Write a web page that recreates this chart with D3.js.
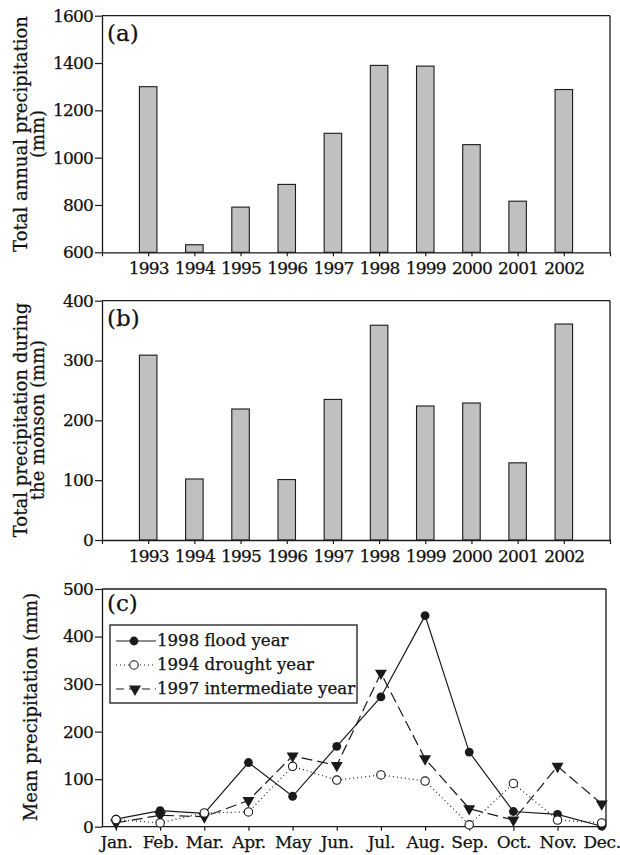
<!DOCTYPE html>
<html><head><meta charset="utf-8">
<script src="https://cdn.jsdelivr.net/npm/d3@7"></script>
<style>
html,body{margin:0;padding:0;background:#fff;}
svg text{font-family:"DejaVu Serif",serif;fill:#111;stroke:#111;stroke-width:0.25px;}
</style></head>
<body>
<svg id="chart" width="620" height="855"></svg>
<script>
// ---------- data ----------
const years = [1993,1994,1995,1996,1997,1998,1999,2000,2001,2002];
const annualPrecip = [1300,632,791,887,1103,1390,1387,1055,816,1288];
const monsoonPrecip = [309,102,219,101,235,359,224,229,129,361];
const months = ["Jan.","Feb.","Mar.","Apr.","May","Jun.","Jul.","Aug.","Sep.","Oct.","Nov.","Dec."];
const flood1998 = [16,34,28,135,64,169,273,444,157,32,26,1];
const drought1994 = [15,8,29,31,127,98,109,96,4,91,14,8];
const inter1997 = [8,24,21,55,149,129,323,143,38,14,127,48];
const ticksA = [600,800,1000,1200,1400,1600];
const ticksB = [0,100,200,300,400];
const ticksC = [0,100,200,300,400,500];
const seriesNames = ["1998 flood year","1994 drought year","1997 intermediate year"];

const svg = d3.select("#chart");
const INK = "#1a1a1a";

function frame(g, x0, x1, y0, y1){
  g.append("line").attr("x1",x0).attr("x2",x1).attr("y1",y0).attr("y2",y0)
    .attr("stroke",INK).attr("stroke-width",1.3);
  g.append("line").attr("x1",x1).attr("x2",x1).attr("y1",y0).attr("y2",y1)
    .attr("stroke",INK).attr("stroke-width",1.3);
}
function styleAxis(sel, fs, ls){
  sel.selectAll("path.domain").attr("stroke",INK).attr("stroke-width",1.3);
  sel.selectAll(".tick line").attr("stroke",INK).attr("stroke-width",1.2);
  sel.selectAll(".tick text").attr("font-family","DejaVu Serif").attr("font-size",fs).attr("fill","#111")
    .attr("letter-spacing", ls||0);
}
function yTitle(lines, cy, baselines, fs){
  lines.forEach((t,i)=>{
    svg.append("text").attr("transform",`translate(${baselines[i]},${cy}) rotate(-90)`)
      .attr("text-anchor","middle").attr("font-size",fs).text(t);
  });
}

// ---------- bar panels ----------
function barPanel(values, yDomain, yTicks, top, bottom, label, labelBase){
  const x = d3.scaleLinear().domain([1992,2003]).range([102,610]);
  const y = d3.scaleLinear().domain(yDomain).range([bottom, top]);
  const g = svg.append("g");
  const bw = 17.5;
  g.selectAll("rect.bar").data(years.map((yr,i)=>({yr, v:values[i]}))).enter()
    .append("rect").attr("class","bar")
    .attr("x",d=>x(d.yr)-bw/2).attr("width",bw)
    .attr("y",d=>y(d.v)).attr("height",d=>y(yDomain[0])-y(d.v))
    .attr("fill","#c0c0c0").attr("stroke",INK).attr("stroke-width",1.1);
  frame(g, 102, 610, top, bottom);
  const xa = g.append("g").attr("transform",`translate(0,${bottom})`)
    .call(d3.axisBottom(x).tickValues(d3.range(1992,2004)).tickSize(4).tickPadding(6).tickSizeOuter(0)
      .tickFormat(d=> (d>=1993 && d<=2002) ? String(d) : ""));
  styleAxis(xa, 17, -0.8);
  const ya = g.append("g").attr("transform","translate(102,0)")
    .call(d3.axisLeft(y).tickValues(yTicks).tickSize(7).tickPadding(2).tickSizeOuter(0).tickFormat(d3.format("d")));
  styleAxis(ya, 17, -0.8);
  svg.append("text").attr("x",107).attr("y",labelBase).attr("font-size",23).text(label);
  return {x,y};
}

barPanel(annualPrecip, [600,1600], ticksA, 15.7, 252.3, "(a)", 41);
barPanel(monsoonPrecip, [0,400], ticksB, 300.7, 540, "(b)", 326);

yTitle(["Total annual precipitation","(mm)"], 134, [27,44], 18);
yTitle(["Total precipitation during","the monson (mm)"], 420, [27,44], 18);
yTitle(["Mean precipitation (mm)"], 707, [37], 18);

// ---------- line panel ----------
(function(){
  const top = 589, bottom = 826.7, left = 102, right = 606;
  const x = d3.scaleLinear().domain([1,12]).range([116, 601.7]);
  const y = d3.scaleLinear().domain([0,500]).range([bottom, top]);
  const g = svg.append("g");
  frame(g, left, right, top, bottom);
  const xa = g.append("g").attr("transform",`translate(0,${bottom})`)
    .call(d3.axisBottom(x).tickValues(d3.range(1,13)).tickSize(4).tickPadding(5).tickSizeOuter(0)
      .tickFormat(d=>months[d-1]));
  xa.select("path.domain").attr("d",`M${left},0H${right}`);
  styleAxis(xa, 17, -0.3);
  const ya = g.append("g").attr("transform",`translate(${left},0)`)
    .call(d3.axisLeft(y).tickValues(ticksC).tickSize(7).tickPadding(2).tickSizeOuter(0));
  styleAxis(ya, 17, -0.8);

  const line = d3.line().x((d,i)=>x(i+1)).y(d=>y(d));
  const tri = d3.symbol().type(d3.symbolTriangle).size(62);

  g.append("path").attr("d",line(flood1998)).attr("fill","none").attr("stroke",INK).attr("stroke-width",1.2);
  g.append("path").attr("d",line(inter1997)).attr("fill","none").attr("stroke",INK).attr("stroke-width",1.2)
    .attr("stroke-dasharray","11,5");
  g.append("path").attr("d",line(drought1994)).attr("fill","none").attr("stroke",INK).attr("stroke-width",1.2)
    .attr("stroke-dasharray","1,3");

  g.selectAll("circle.f").data(flood1998).enter().append("circle")
    .attr("cx",(d,i)=>x(i+1)).attr("cy",d=>y(d)).attr("r",4.4).attr("fill",INK);
  g.selectAll("path.t").data(inter1997).enter().append("path")
    .attr("d",tri).attr("transform",(d,i)=>`translate(${x(i+1)},${y(d)}) rotate(180)`).attr("fill",INK);
  g.selectAll("circle.o").data(drought1994).enter().append("circle")
    .attr("cx",(d,i)=>x(i+1)).attr("cy",d=>y(d)).attr("r",4.2).attr("fill","#fff").attr("stroke",INK).attr("stroke-width",1.1);

  svg.append("text").attr("x",107).attr("y",611).attr("font-size",23).text("(c)");

  // legend
  const lg = svg.append("g");
  lg.append("rect").attr("x",110).attr("y",625).attr("width",247).attr("height",78)
    .attr("fill","#fff").attr("stroke",INK).attr("stroke-width",1.3);
  const rows = [646, 670, 694];
  const dash = [null,"1,3","8,5"];
  rows.forEach((b,i)=>{
    const cy = b-5;
    lg.append("line").attr("x1",116).attr("x2",156).attr("y1",cy).attr("y2",cy)
      .attr("stroke",INK).attr("stroke-width",1.2).attr("stroke-dasharray",dash[i]);
    if(i===0) lg.append("circle").attr("cx",134).attr("cy",cy).attr("r",4.4).attr("fill",INK);
    if(i===1) lg.append("circle").attr("cx",134).attr("cy",cy).attr("r",4.2).attr("fill","#fff").attr("stroke",INK).attr("stroke-width",1.1);
    if(i===2) lg.append("path").attr("d",tri).attr("transform",`translate(135,${cy}) rotate(180)`).attr("fill",INK);
    lg.append("text").attr("x",157).attr("y",b).attr("font-size",16.6).text(seriesNames[i]);
  });
})();
</script>
</body></html>
